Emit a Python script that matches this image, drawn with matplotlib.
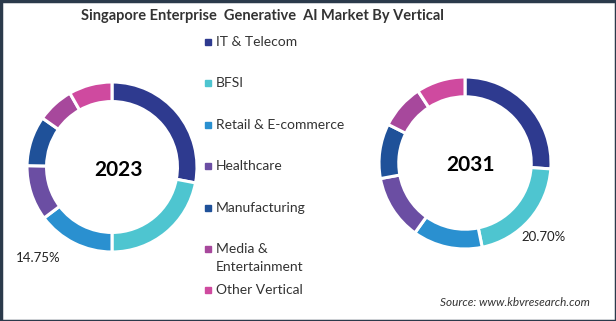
import matplotlib.pyplot as plt
from matplotlib.patches import Rectangle

W, H = 616, 321

verticals = ['IT & Telecom', 'BFSI', 'Retail & E-commerce', 'Healthcare',
             'Manufacturing', 'Media &\nEntertainment', 'Other Vertical']
colors = ['#2e3a8f', '#4ec5d0', '#2a90d0', '#6b4ea3', '#1f5199', '#a7489c', '#cf4a9f']

share_2023 = [28.0, 22.0, 14.75, 10.5, 9.5, 7.0, 8.25]
share_2031 = [26.1, 20.7, 13.1, 12.2, 10.3, 8.4, 9.2]

plt.rcParams['font.family'] = ['Lato', 'DejaVu Sans']

fig = plt.figure(figsize=(W / 100, H / 100), dpi=100)
fig.patch.set_facecolor('white')


def donut(cx, cy, r, values, year, label, label_pos, year_off):
    m = 1.06
    ax = fig.add_axes([(cx - r * m) / W, (H - cy - r * m) / H, 2 * r * m / W, 2 * r * m / H])
    ax.pie(values, colors=colors, startangle=90, counterclock=False, radius=1,
           wedgeprops=dict(width=0.23, edgecolor='white', linewidth=2.2))
    ax.set_xlim(-m, m)
    ax.set_ylim(-m, m)
    ax.set_aspect('equal')
    ax.axis('off')
    ax.text(year_off[0], year_off[1], year, ha='center', va='center',
            fontsize=15, fontweight='bold', color='black')
    ax.text(label_pos[0], label_pos[1], label, ha='center', va='center',
            fontsize=9.5, color='#222222', clip_on=False)


donut(112, 167, 85, share_2023, '2023', '14.75%', (-0.87, -1.07), (0.08, -0.04))
donut(465, 163, 86, share_2031, '2031', '20.70%', (0.91, -0.86), (0.06, -0.02))

fig.text(262 / W, 1 - 16 / H, 'Singapore Enterprise  Generative  AI Market By Vertical',
         ha='center', va='center', fontsize=10.5, fontweight='bold', color='#333333')

# legend, placed by hand (marker sits on the first text line)
legend_y = [42, 83, 125, 166, 208, 249, 290]
for name, col, y in zip(verticals, colors, legend_y):
    fig.add_artist(Rectangle((205 / W, 1 - (y + 3) / H), 6 / W, 6 / H,
                             transform=fig.transFigure, color=col))
    for i, line in enumerate(name.split('\n')):
        fig.text(216 / W, 1 - (y + 18 * i) / H, line, ha='left', va='center',
                 fontsize=10, color='#333333')

fig.text(590 / W, 1 - 303 / H, 'Source: www.kbvresearch.com', ha='right', va='center',
         fontsize=8.5, style='italic', color='#333333')

fig.add_artist(Rectangle((0.5 / W, 0.5 / H), 1 - 1 / W, 1 - 1 / H, transform=fig.transFigure,
                         fill=False, edgecolor='#2b3a4b', linewidth=2.5))

fig.savefig('out.png', dpi=100, facecolor='white')
